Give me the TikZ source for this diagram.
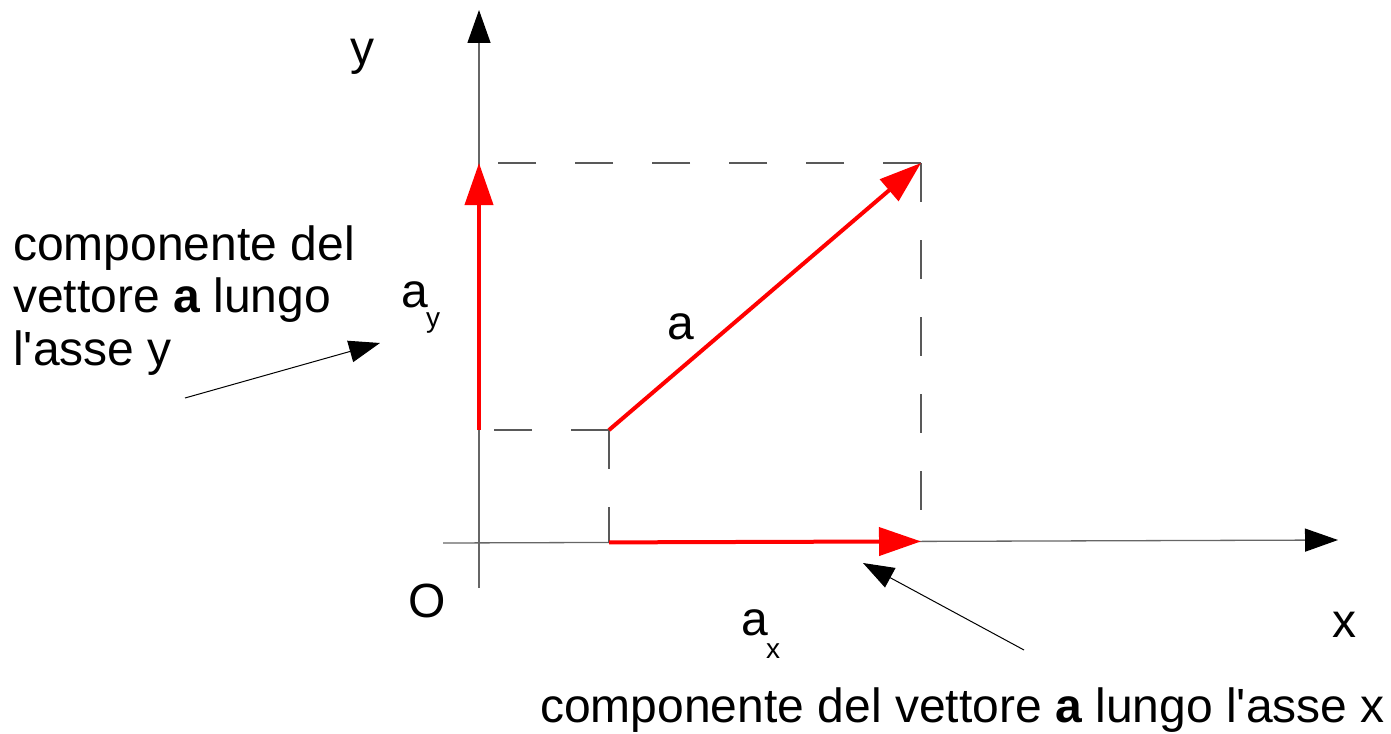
\documentclass[tikz,border=0pt]{standalone}
\usepackage{fontspec}
\setmainfont{Liberation Sans}
\usetikzlibrary{arrows.meta}
\begin{document}
\begin{tikzpicture}[x=1pt,y=-1pt,
  axis/.style={draw=black!60,line width=1.3pt,-{Triangle[length=33pt,width=23pt,fill=black,color=black]}},
  vec/.style={draw=red,line width=4pt,-{Triangle[length=42pt,width=28pt]}},
  guide/.style={draw=black!65,line width=1.3pt,dash pattern=on 38.5pt off 38.5pt},
  note/.style={draw=black,line width=1pt,-{Triangle[length=31pt,width=22pt]}},
  big/.style={inner sep=0pt,font=\fontsize{48}{52.5}\selectfont},
  sub/.style={inner sep=0pt,font=\fontsize{28}{30}\selectfont}]
\useasboundingbox (0,0) rectangle (1391,733);
% points
\coordinate (xs) at (443,543);
\coordinate (xe) at (1338,540);
\coordinate (ys) at (479,588);
\coordinate (ye) at (479,10);
\coordinate (Ay0) at (479,430);
\coordinate (Ay1) at (479,163);
\coordinate (P) at (609,430);
\coordinate (Q) at (921,163);
\coordinate (Ax0) at (609,542.4);
\coordinate (Ax1) at (921,541.4);
\coordinate (Qx) at (921,543);
\coordinate (Px) at (609,543);
\coordinate (n1s) at (185,398);
\coordinate (n1e) at (380,343);
\coordinate (n2s) at (1024,650);
\coordinate (n2e) at (863,563);
% axes
\draw[axis] (xs) -- (xe);
\draw[axis] (ys) -- (ye);
% guides
\draw[guide] (Q) -- (Ay1);
\draw[guide] (Q) -- (Qx);
\draw[guide] (P) -- (Ay0);
\draw[guide] (P) -- (Px);
% vectors
\draw[vec] (Ay0) -- (Ay1);
\draw[vec] (P) -- (Q);
\draw[vec] (Ax0) -- (Ax1);
% annotation arrows
\draw[note] (n1s) -- (n1e);
\draw[note] (n2s) -- (n2e);
% labels
\node[big,anchor=base] (ly) at (362,65) {y};
\node[big,anchor=base] (lO) at (427,617) {O};
\node[big,anchor=base] (lx) at (1344,637) {x};
\node[big,anchor=base] (la) at (681,339) {a};
\node[big,anchor=base west] (lay) at (401,307) {a};
\node[sub,anchor=base west] (lays) at (426,327) {y};
\node[big,anchor=base west] (lax) at (741,635) {a};
\node[sub,anchor=base west] (laxs) at (766,658) {x};
\node[big,anchor=base west,align=left] (t1) at (13,365) {componente del\\vettore \textbf{a} lungo\\l\textquotesingle asse y};
\node[big,anchor=base west] (t2) at (540,722) {componente del vettore \textbf{a} lungo l\textquotesingle asse x};
\end{tikzpicture}
\end{document}
